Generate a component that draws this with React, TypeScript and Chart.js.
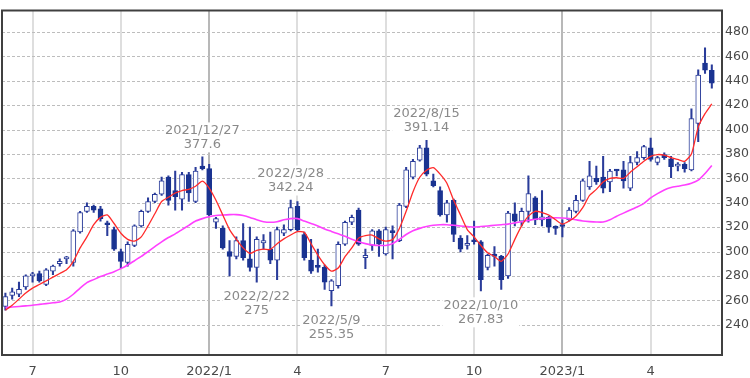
import React, { useEffect, useRef } from 'react';
import { Chart, registerables } from 'chart.js';
Chart.register(...registerables);

// Weekly candles, first week 2021/6/7, one candle per week
const opens = [255,264,265,271,280,282,273,284,290,294,291,316,333,337,335,323,318,300,291,305,321,333,341,347,361,350,343,363,341,370,368,324,319,300,296,309,294,287,307,302,293,315,318,337,314,293,288,287,268,272,306,324,334,295,305,317,298,316,309,337,361,375,385,358,350,330,342,311,305,309,308,287,298,296,280,331,325,333,344,326,328,320,322,326,333,342,353,360,361,357,367,367,352,373,377,385,373,379.5,376,370,371.5,367,405,454.5,448.6];
const highs = [266,270,275,281,283,284,286,289,294,296,318,333,340,338,337,325,320,302,308,322,334,344,348,361,362,366,365,365,369,377.6,371.5,328,321,309,312,323,320,312,314,316,320,322,342.24,341,316,310,302,289,277,308,325,330,335.6,302,318,318,320,321,339.6,369,375.5,387,391.14,363.5,353,342,343,313,313,325,309,298,304,297,333,340,335.6,362,345,350,329,321,326,336,346,359.5,374,370,378,367.5,367.5,374,378,382,387,393,378,381,378,373,373,417,449,467,453];
const lows = [252,261,263,269,275,275,272,281,288,290,288,315,332,332,325,313,301,286,288,304,320,332,340,346,338,334,334,341,340,367,329,319,302,280,294,293,284,275,302,290,277,313,317,317,293,282,283,269,255.35,270,305,322,305,286,301,296,297,294,308,336,359.5,374,362,353,329,324,308,299.7,302,306,267.83,285,288,269,278,321,321,324,322,321,315.7,314,312,325,331.6,341,351,355,348,349,362,352,350,371,375.5,374,371,375.5,360.5,366,365,366,390,446,434];
const closes = [263,267,269,280,281,276,285,288,292,294.5,317,332,337,334,327,322,302,292,306,321,333,341,347,358,342,345,363,348,366,368,330,327,303,296,309,295,287,310,309,293,318,318,336,318,295,284,287,275,276,306,324,328,306,297,317,306,318,315.5,338,367,374,385,363.5,354,330,340,314,302,306,308,277,297,296,277,331.6,325,333,347.6,326,328.5,320,319,320.5,334,342,358,362,357,352,366,366,358,373,377,386,375.5,377,377,369.5,371.5,368,409,444.6,448.6,438];
const ma13 = [252,256,261,266,270,273,276,279,282,285,292,303,312,322,328,330,323,315,310,308.5,312,321,331,341,344.5,348,350,351,353.5,357.7,352,342,330,318,310,303,298.5,301,302,301.7,306.4,310.4,313.6,316.3,315.8,306.4,297.1,289.2,283.9,286.5,295.8,303,311,313,313.5,310.4,308.5,309.8,318.9,333,348.9,360.9,366.7,368.8,363.5,356,342,330,318,312,305,299,296,292,298,310,321,329,333,332,330,326,322.5,325,329,336,346,351,357,360,360.5,360,365,369.5,374,378,379.5,379,377,375.5,374,380,402,413,421];
const ma26 = [254,254.5,255,255.5,256,256.7,257.3,258,258.6,261,265,270,274.5,277,279.5,281.5,283.5,286,289,292.5,296,300,304,308,311.5,314.5,318,321.5,325,327,328.5,329.5,330,330.3,330.3,329.5,328,326,324.5,324,324.5,326,327,327,325,323,321,318.5,316.5,314.5,312.5,310,308,306.5,305.5,305,305,306.5,310,314,317,319,320.5,321.5,322,322,321.5,321,320.5,320,320.5,321,321.5,322,322.5,323.5,324.5,325.5,326.5,327,327.5,327.7,327.5,327,326,325,324.5,324.2,324.2,326,329,331.5,334,336.5,339.5,344,347.5,350.5,352.5,353.5,354.5,356,358.5,364,370.5];

const quarterTicks = [4, 17, 30, 43, 56, 69, 82, 95];
const quarterLabels = ['7', '10', '2022/1', '4', '7', '10', '2023/1', '4'];
const yearTicks = [30, 82];
const yTicks = [240, 260, 280, 300, 320, 340, 360, 380, 400, 420, 440, 460, 480];

const annIdx = [29, 37, 42, 48, 62, 70];
const annDate = ['2021/12/27', '2022/2/22', '2022/3/28', '2022/5/9', '2022/8/15', '2022/10/10'];
const annValue = ['377.6', '275', '342.24', '255.35', '391.14', '267.83'];
const annIsHigh = [true, false, true, false, true, false];

const FONT = 'DejaVu Sans';
const UP_EDGE = '#2a3c9a';
const DOWN_FILL = '#1a3391';

const gridPlugin = {
  id: 'dashGrid',
  beforeDatasetsDraw(chart: any) {
    const { ctx, chartArea: a, scales } = chart;
    ctx.save();
    ctx.strokeStyle = '#bdbdbd';
    ctx.lineWidth = 1;
    ctx.setLineDash([3, 2]);
    yTicks.forEach(v => {
      const y = Math.round(scales.y.getPixelForValue(v)) + 0.5;
      ctx.beginPath();
      ctx.moveTo(a.left, y);
      ctx.lineTo(a.right, y);
      ctx.stroke();
    });
    ctx.restore();
  },
};

const framePlugin = {
  id: 'frame',
  afterDraw(chart: any) {
    const { ctx, chartArea: a, scales } = chart;
    ctx.save();
    ctx.font = `13px "${FONT}"`;
    ctx.textAlign = 'center';
    ctx.textBaseline = 'middle';
    annIdx.forEach((idx, k) => {
      const x = scales.x.getPixelForValue(idx);
      const v = parseFloat(annValue[k]);
      const y = scales.y.getPixelForValue(v);
      const y1 = annIsHigh[k] ? y - 26.5 : y + 14.5;
      const y2 = y1 + 14;
      const w = Math.max(ctx.measureText(annDate[k]).width, ctx.measureText(annValue[k]).width);
      ctx.fillStyle = '#ffffff';
      ctx.fillRect(x - w / 2 - 1, y1 - 8, w + 2, 30);
      ctx.fillStyle = '#8a8a8a';
      ctx.fillText(annDate[k], x, y1);
      ctx.fillText(annValue[k], x, y2);
    });
    ctx.strokeStyle = '#404040';
    ctx.lineWidth = 2;
    ctx.strokeRect(a.left, a.top, a.right - a.left, a.bottom - a.top);
    ctx.restore();
  },
};

export default function App() {
  const ref = useRef<HTMLCanvasElement>(null);
  useEffect(() => {
    document.body.style.margin = '0';
    const idx = opens.map((_, i) => i);
    const upBodies = idx.filter(i => closes[i] >= opens[i]).map(i => ({ x: i, y: [opens[i], closes[i]] }));
    const downBodies = idx.filter(i => closes[i] < opens[i]).map(i => ({ x: i, y: [closes[i], opens[i]] }));
    const wicks = idx.map(i => ({ x: i, y: [lows[i], highs[i]] }));
    const chart = new Chart(ref.current!, {
      type: 'bar',
      data: {
        datasets: [
          {
            type: 'line', data: ma13.map((v, i) => ({ x: i, y: v })), borderColor: '#ff2a2a',
            borderWidth: 1.3, pointRadius: 0, tension: 0.2, order: 0,
          } as any,
          {
            type: 'line', data: ma26.map((v, i) => ({ x: i, y: v })), borderColor: '#ff40ff',
            borderWidth: 1.6, pointRadius: 0, tension: 0.2, order: 0,
          } as any,
          {
            type: 'bar', data: upBodies, backgroundColor: '#ffffff', borderColor: UP_EDGE, borderWidth: 1,
            barThickness: 5, grouped: false, borderSkipped: false, minBarLength: 2, order: 1,
          } as any,
          {
            type: 'bar', data: downBodies, backgroundColor: DOWN_FILL, borderColor: DOWN_FILL, borderWidth: 1,
            barThickness: 5, grouped: false, borderSkipped: false, minBarLength: 2, order: 1,
          } as any,
          {
            type: 'bar', data: wicks, backgroundColor: UP_EDGE, borderWidth: 0,
            barThickness: 1.4, grouped: false, borderSkipped: false, order: 2,
          } as any,
        ],
      },
      options: {
        responsive: false,
        devicePixelRatio: 1,
        animation: false,
        events: [],
        layout: { padding: { left: 2, top: 2, right: 0, bottom: 0 } },
        plugins: { legend: { display: false }, tooltip: { enabled: false } },
        scales: {
          x: {
            type: 'linear', min: -0.5, max: 105.5, offset: false,
            afterBuildTicks: (s: any) => { s.ticks = quarterTicks.map(v => ({ value: v })); },
            afterFit: (s: any) => { s.height = 23; },
            grid: {
              offset: false, drawTicks: false, lineWidth: 2,
              color: (c: any) => (c.tick && yearTicks.includes(c.tick.value) ? '#b8b8b8' : '#dedede'),
            },
            border: { display: false },
            ticks: {
              autoSkip: false, maxRotation: 0, padding: 9, color: '#4a4a4a',
              font: { family: FONT, size: 13 },
              callback: (v: any) => { const k = quarterTicks.indexOf(v); return k >= 0 ? quarterLabels[k] : ''; },
            },
          },
          y: {
            type: 'linear', position: 'right', min: 215.2, max: 497.6,
            afterBuildTicks: (s: any) => { s.ticks = yTicks.map(v => ({ value: v })); },
            afterFit: (s: any) => { s.width = 28; },
            grid: { display: false, drawTicks: false },
            border: { display: false },
            ticks: { padding: 3, color: '#4a4a4a', font: { family: FONT, size: 12.5 } },
          },
        },
      } as any,
      plugins: [gridPlugin, framePlugin],
    });
    return () => chart.destroy();
  }, []);
  return (
    <div style={{ position: 'fixed', left: 0, top: 0, width: 750, height: 378, background: '#fff' }}>
      <canvas ref={ref} width={750} height={378} style={{ display: 'block', width: 750, height: 378 }} />
    </div>
  );
}
